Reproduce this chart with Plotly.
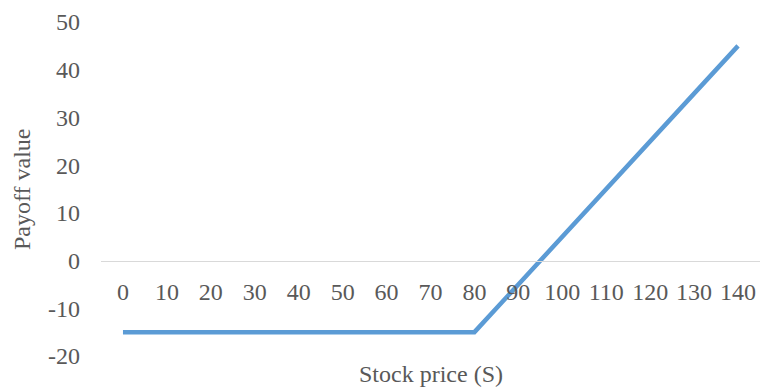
import plotly.graph_objects as go

stock_price = [0, 10, 20, 30, 40, 50, 60, 70, 80, 90, 100, 110, 120, 130, 140]
payoff = [-15, -15, -15, -15, -15, -15, -15, -15, -15, -5, 5, 15, 25, 35, 45]
y_ticks = [-20, -10, 0, 10, 20, 30, 40, 50]

FONT = "'Liberation Serif', serif"
TXT = "#595959"
FS = 24

fig = go.Figure()
fig.add_trace(go.Scatter(
    x=[str(v) for v in stock_price], y=payoff, mode="lines",
    line=dict(color="#5B9BD5", width=4.5), showlegend=False,
))

ymin, ymax = -20, 50
fig.update_layout(
    width=762, height=388,
    margin=dict(l=101, r=2, t=22, b=32),
    paper_bgcolor="white", plot_bgcolor="white",
    font=dict(family=FONT, size=FS, color=TXT),
    xaxis=dict(
        type="category", range=[-0.5, len(stock_price) - 0.5],
        anchor="free", position=(0 - ymin) / (ymax - ymin),
        showline=True, linecolor="#D9D9D9", linewidth=1,
        showgrid=False, zeroline=False, ticks="",
        ticklabelstandoff=10,
    ),
    yaxis=dict(
        range=[ymin, ymax], tickvals=y_ticks, ticktext=[str(v) for v in y_ticks],
        showgrid=False, zeroline=False,
        showline=False, ticks="", ticklabelstandoff=20,
    ),
    annotations=[
        dict(text="Stock price (S)", xref="paper", yref="paper", x=0.5, y=0,
             yshift=-3, yanchor="top", showarrow=False, font=dict(size=FS)),
        dict(text="Payoff value", xref="paper", yref="paper", x=0, y=0.5,
             xshift=-79, xanchor="center", yanchor="middle", textangle=-90,
             showarrow=False, font=dict(size=FS)),
    ],
)

fig.write_html("out.html")
